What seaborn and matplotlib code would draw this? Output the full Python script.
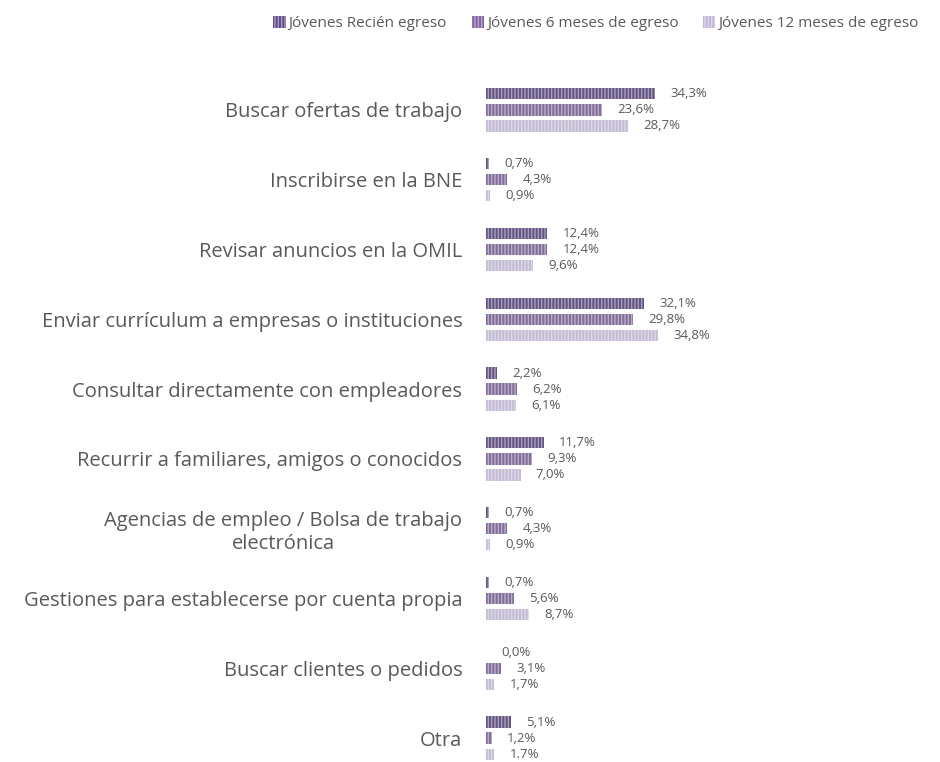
import pandas as pd
import matplotlib.pyplot as plt
import seaborn as sns
from matplotlib.patches import Patch

categories = [
    'Buscar ofertas de trabajo',
    'Inscribirse en la BNE',
    'Revisar anuncios en la OMIL',
    'Enviar currículum a empresas o instituciones',
    'Consultar directamente con empleadores',
    'Recurrir a familiares, amigos o conocidos',
    'Agencias de empleo / Bolsa de trabajo\nelectrónica',
    'Gestiones para establecerse por cuenta propia',
    'Buscar clientes o pedidos',
    'Otra',
]
series = ['Jóvenes Recién egreso', 'Jóvenes 6 meses de egreso', 'Jóvenes 12 meses de egreso']
recien = [34.3, 0.7, 12.4, 32.1, 2.2, 11.7, 0.7, 0.7, 0.0, 5.1]
seis_meses = [23.6, 4.3, 12.4, 29.8, 6.2, 9.3, 4.3, 5.6, 3.1, 1.2]
doce_meses = [28.7, 0.9, 9.6, 34.8, 6.1, 7.0, 0.9, 8.7, 1.7, 1.7]
colors = ['#5f4b8b', '#8064a2', '#c2b6d8']

# the original writes this one label with a dot
label_override = {(2, 9): '1.7%'}

df = pd.DataFrame({'Categoria': categories, series[0]: recien,
                   series[1]: seis_meses, series[2]: doce_meses})
df = df.melt(id_vars='Categoria', var_name='Serie', value_name='Valor')

sns.set_style('white')
plt.rcParams['font.family'] = ['Open Sans', 'DejaVu Sans']
plt.rcParams['hatch.linewidth'] = 1.0
text_color = '#595959'

fig = plt.figure(figsize=(9.4, 7.62), dpi=100)
ax = fig.add_axes([486 / 940, -11 / 762, 222 / 940, 698 / 762])

sns.barplot(data=df, y='Categoria', x='Valor', hue='Serie', order=categories,
            hue_order=series, palette=colors, width=0.69, gap=0.3,
            orient='h', ax=ax, legend=False)

for i, cont in enumerate(ax.containers):
    for bar in cont:
        bar.set_hatch('|||||')
        bar.set_edgecolor((1, 1, 1, 0.45))
        bar.set_linewidth(0)
    vals = [recien, seis_meses, doce_meses][i]
    labels = [label_override.get((i, j), f'{v:.1f}'.replace('.', ',') + '%')
              for j, v in enumerate(vals)]
    ax.bar_label(cont, labels=labels, padding=11, fontsize=9.5, color=text_color)

ax.set_xlim(0, 45)
ax.set_xlabel('')
ax.set_ylabel('')
ax.set_xticks([])
ax.tick_params(axis='y', length=0, pad=17, labelsize=14.5, labelcolor=text_color)
for lab in ax.get_yticklabels():
    lab.set_multialignment('center')
sns.despine(ax=ax, left=True, bottom=True)

handles = [Patch(facecolor=c, edgecolor=(1, 1, 1, 0.45), hatch='|||||', linewidth=0)
           for c in colors]
fig.legend(handles, series, loc='upper center', bbox_to_anchor=(0.634, 0.997),
           ncol=3, frameon=False, fontsize=11, labelcolor=text_color,
           handlelength=0.8, handleheight=0.8, handletextpad=0.2, columnspacing=1.6)

fig.savefig('out.png', dpi=100)
